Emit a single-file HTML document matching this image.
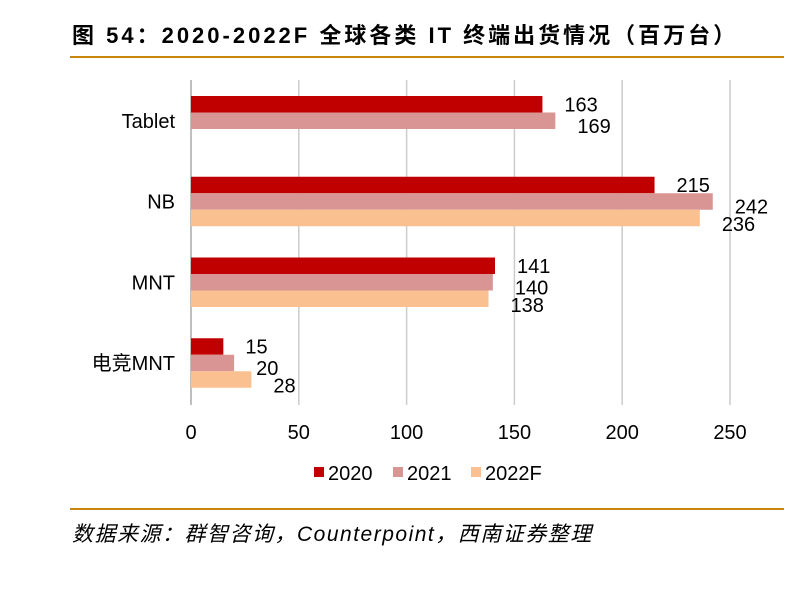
<!DOCTYPE html>
<html><head><meta charset="utf-8"><style>
body{margin:0;background:#fff;width:800px;height:586px;overflow:hidden;font-family:"Liberation Sans","Noto Sans CJK SC",sans-serif}
</style></head><body>
<svg width="800" height="586" xmlns="http://www.w3.org/2000/svg">
<text x="72" y="43" font-size="22" font-weight="bold" letter-spacing="3" font-family="'Liberation Sans','Noto Sans CJK SC',sans-serif">图 54：2020-2022F 全球各类 IT 终端出货情况（百万台）</text>
<rect x="70" y="56" width="714" height="2" fill="#c8860a"/>
<g id="grid"></g><g id="bars"></g><g id="labels"></g>
<g id="legend"></g>
<rect x="70" y="508" width="714" height="2" fill="#c8860a"/>
<text x="72" y="541" font-size="21" font-style="italic" letter-spacing="1.5" font-family="'Liberation Sans','Noto Sans CJK SC',sans-serif">数据来源：群智咨询，Counterpoint，西南证券整理</text>
</svg>
<script>
const categories=["Tablet","NB","MNT","电竞MNT"];
const seriesNames=["2020","2021","2022F"];
const s2020=[163,215,141,15];
const s2021=[169,242,140,20];
const s2022=[null,236,138,28];
const ticks=[0,50,100,150,200,250];
const colors=["#c00000","#d99594","#fac090"];
const NS="http://www.w3.org/2000/svg";
const x=v=>191+v*539/250;
const top0=80,band=80.75,bh=16.5;
function mk(t,a,p){const e=document.createElementNS(NS,t);for(const k in a)e.setAttribute(k,a[k]);p.appendChild(e);return e;}
const grid=document.getElementById('grid'),bars=document.getElementById('bars'),labels=document.getElementById('labels');
ticks.forEach(t=>{
 const l=mk('line',{x1:x(t),x2:x(t),y1:80,y2:405,stroke:t===0?'#aaa':'#ccc','stroke-width':1.5},grid);
 
 
 const tx=mk('text',{x:x(t),y:439,'font-size':20,'text-anchor':'middle'},grid);tx.textContent=t;
 
 
});
const all=[s2020,s2021,s2022];const offs=[0,5,6];
categories.forEach((c,i)=>{
 const y0=top0+i*band+16;
 const ct=mk('text',{x:175,y:y0+bh*1.5+7,'font-size':20,'text-anchor':'end'},labels);ct.textContent=c;
 
 
 all.forEach((s,j)=>{
  const v=s[i];if(v==null)return;
  const y=y0+j*bh;
  const r=mk('rect',{x:x(0),y:y,width:x(v)-x(0),height:bh,fill:colors[j]},bars);
  
  
  const t=mk('text',{x:x(v)+22,y:y+bh/2+7+offs[j],'font-size':20},labels);t.textContent=v;
  
  
 });
});
const lg=document.getElementById('legend');const lx=[314,393,471];
seriesNames.forEach((n,j)=>{
 const r=mk('rect',{x:lx[j],y:467,width:10,height:10,fill:colors[j]},lg);
 
 
 const t=mk('text',{x:lx[j]+14,y:480,'font-size':20},lg);t.textContent=n;
 
 
});
</script>
</body></html>
